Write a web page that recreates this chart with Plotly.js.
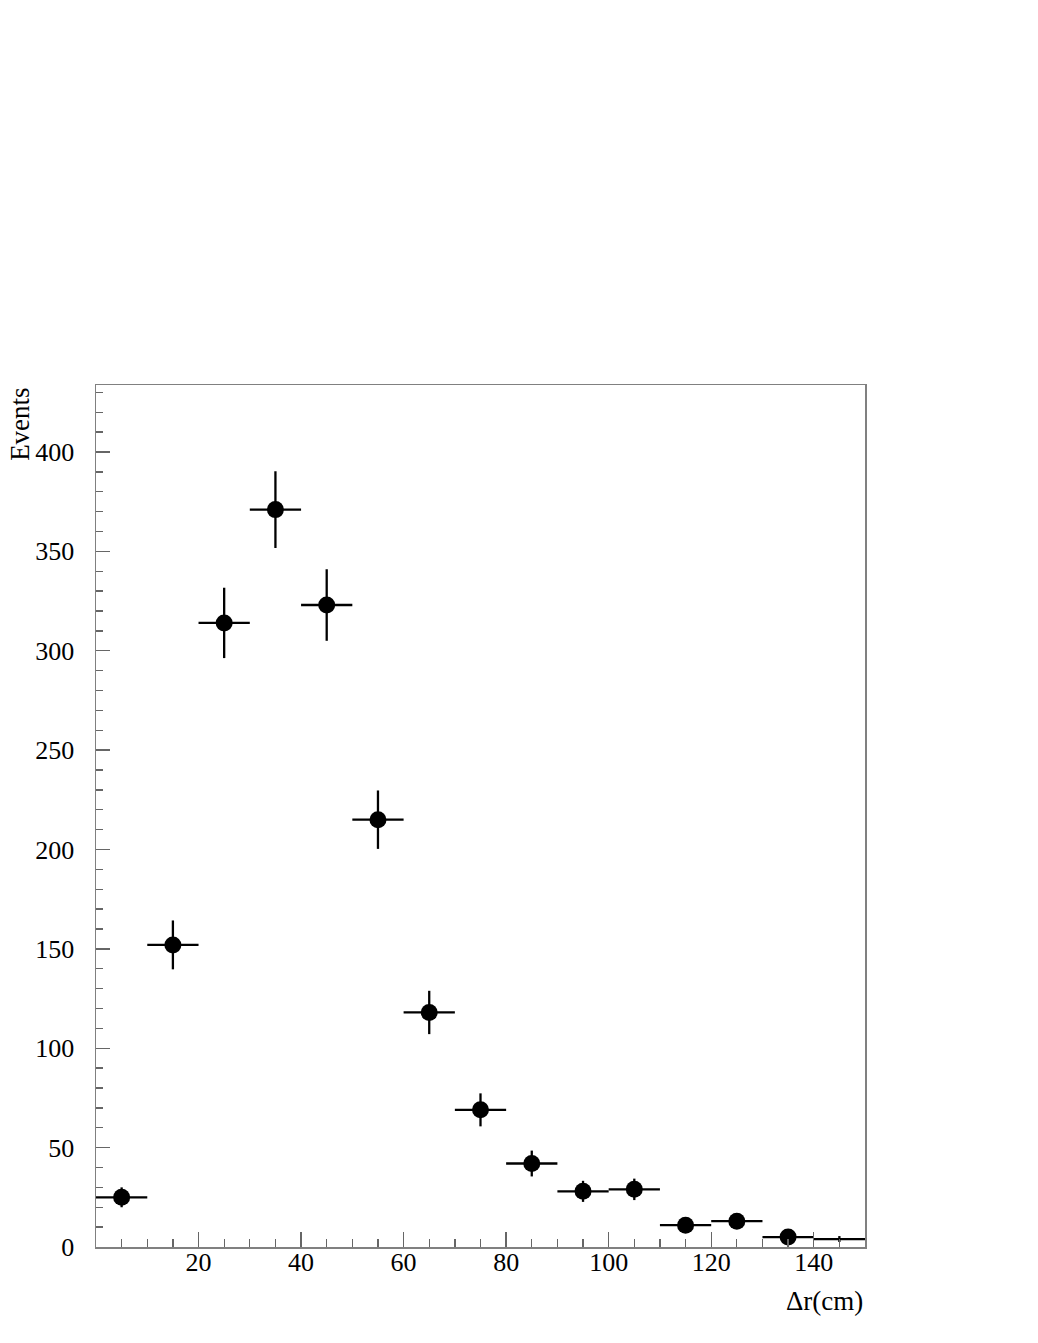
<!DOCTYPE html>
<html>
<head>
<meta charset="utf-8">
<script src="https://cdn.plot.ly/plotly-3.0.1.min.js"></script>
<style>html,body{margin:0;padding:0;background:#fff;}#chart{width:1038px;height:1343px;}</style>
</head>
<body>
<div id="chart"></div>
<script>
// Bin centres (cm), counts and errors
const binCenters = [5, 15, 25, 35, 45, 55, 65, 75, 85, 95, 105, 115, 125, 135, 145];
const counts     = [25, 152, 314, 371, 323, 215, 118, 69, 42, 28, 29, 11, 13, 5, 4];
const countErrors= [5, 12.3, 17.7, 19.3, 18, 14.7, 10.9, 8.3, 6.5, 5.3, 5.4, 3.3, 3.6, 2.2, 1.5];
const binHalfWidth = [5, 5, 5, 5, 5, 5, 5, 5, 5, 5, 5, 5, 5, 5, 5];
const xTickVals = [20, 40, 60, 80, 100, 120, 140];
const yTickVals = [0, 50, 100, 150, 200, 250, 300, 350, 400];

const fontFam = 'Liberation Serif, Times New Roman, serif';
const nMarked = counts.length - 1; // last bin drawn without a marker

const errTrace = {
  type: 'scatter',
  mode: 'markers',
  x: binCenters,
  y: counts,
  marker: {color: 'rgba(0,0,0,0)', size: 1},
  error_x: {type: 'data', array: binHalfWidth, symmetric: true, color: '#000', thickness: 2.3, width: 0},
  error_y: {type: 'data', array: countErrors, symmetric: true, color: '#000', thickness: 2.3, width: 0},
  hoverinfo: 'skip'
};

const markerTrace = {
  type: 'scatter',
  mode: 'markers',
  x: binCenters.slice(0, nMarked),
  y: counts.slice(0, nMarked),
  marker: {color: '#000', size: 17, symbol: 'circle', opacity: 1, line: {width: 0}},
  opacity: 1,
  hoverinfo: 'x+y'
};

const layout = {
  width: 1038, height: 1343,
  paper_bgcolor: '#fff', plot_bgcolor: '#fff',
  margin: {l: 96, r: 173, t: 385, b: 96, pad: 0},
  showlegend: false,
  font: {family: fontFam, color: '#000', size: 26},
  xaxis: {
    range: [0, 150], showgrid: false, zeroline: false,
    showline: true, linecolor: '#808080', linewidth: 1.5, mirror: true,
    ticks: 'inside', ticklen: 15, tickcolor: '#666', tickwidth: 1.3,
    tickvals: xTickVals, ticktext: xTickVals.map(String),
    ticklabelstandoff: -9,
    minor: {ticks: 'inside', ticklen: 8, dtick: 5, tick0: 0, tickcolor: '#666', tickwidth: 1.3, showgrid: false},
    tickfont: {family: fontFam, size: 26, color: '#000'}
  },
  yaxis: {
    range: [0, 433.7], showgrid: false, zeroline: false,
    showline: true, linecolor: '#808080', linewidth: 1.5, mirror: true,
    ticks: 'inside', ticklen: 14, tickcolor: '#666', tickwidth: 1.3,
    tickvals: yTickVals, ticktext: yTickVals.map(String),
    ticklabelstandoff: 15,
    minor: {ticks: 'inside', ticklen: 7, dtick: 10, tick0: 0, tickcolor: '#666', tickwidth: 1.3, showgrid: false},
    tickfont: {family: fontFam, size: 26, color: '#000'}
  },
  annotations: [
    {text: 'Events', xref: 'paper', yref: 'paper', x: -0.099, y: 1.0,
     xanchor: 'center', yanchor: 'top', textangle: -90, showarrow: false,
     font: {family: fontFam, size: 27, color: '#000'}},
    {text: 'Δr(cm)', xref: 'paper', yref: 'paper', x: 1.0, y: -0.063,
     xanchor: 'right', yanchor: 'middle', showarrow: false,
     font: {family: fontFam, size: 27, color: '#000'}}
  ]
};

Plotly.newPlot('chart', [errTrace, markerTrace], layout, {displayModeBar: false, staticPlot: true});
</script>
</body>
</html>
